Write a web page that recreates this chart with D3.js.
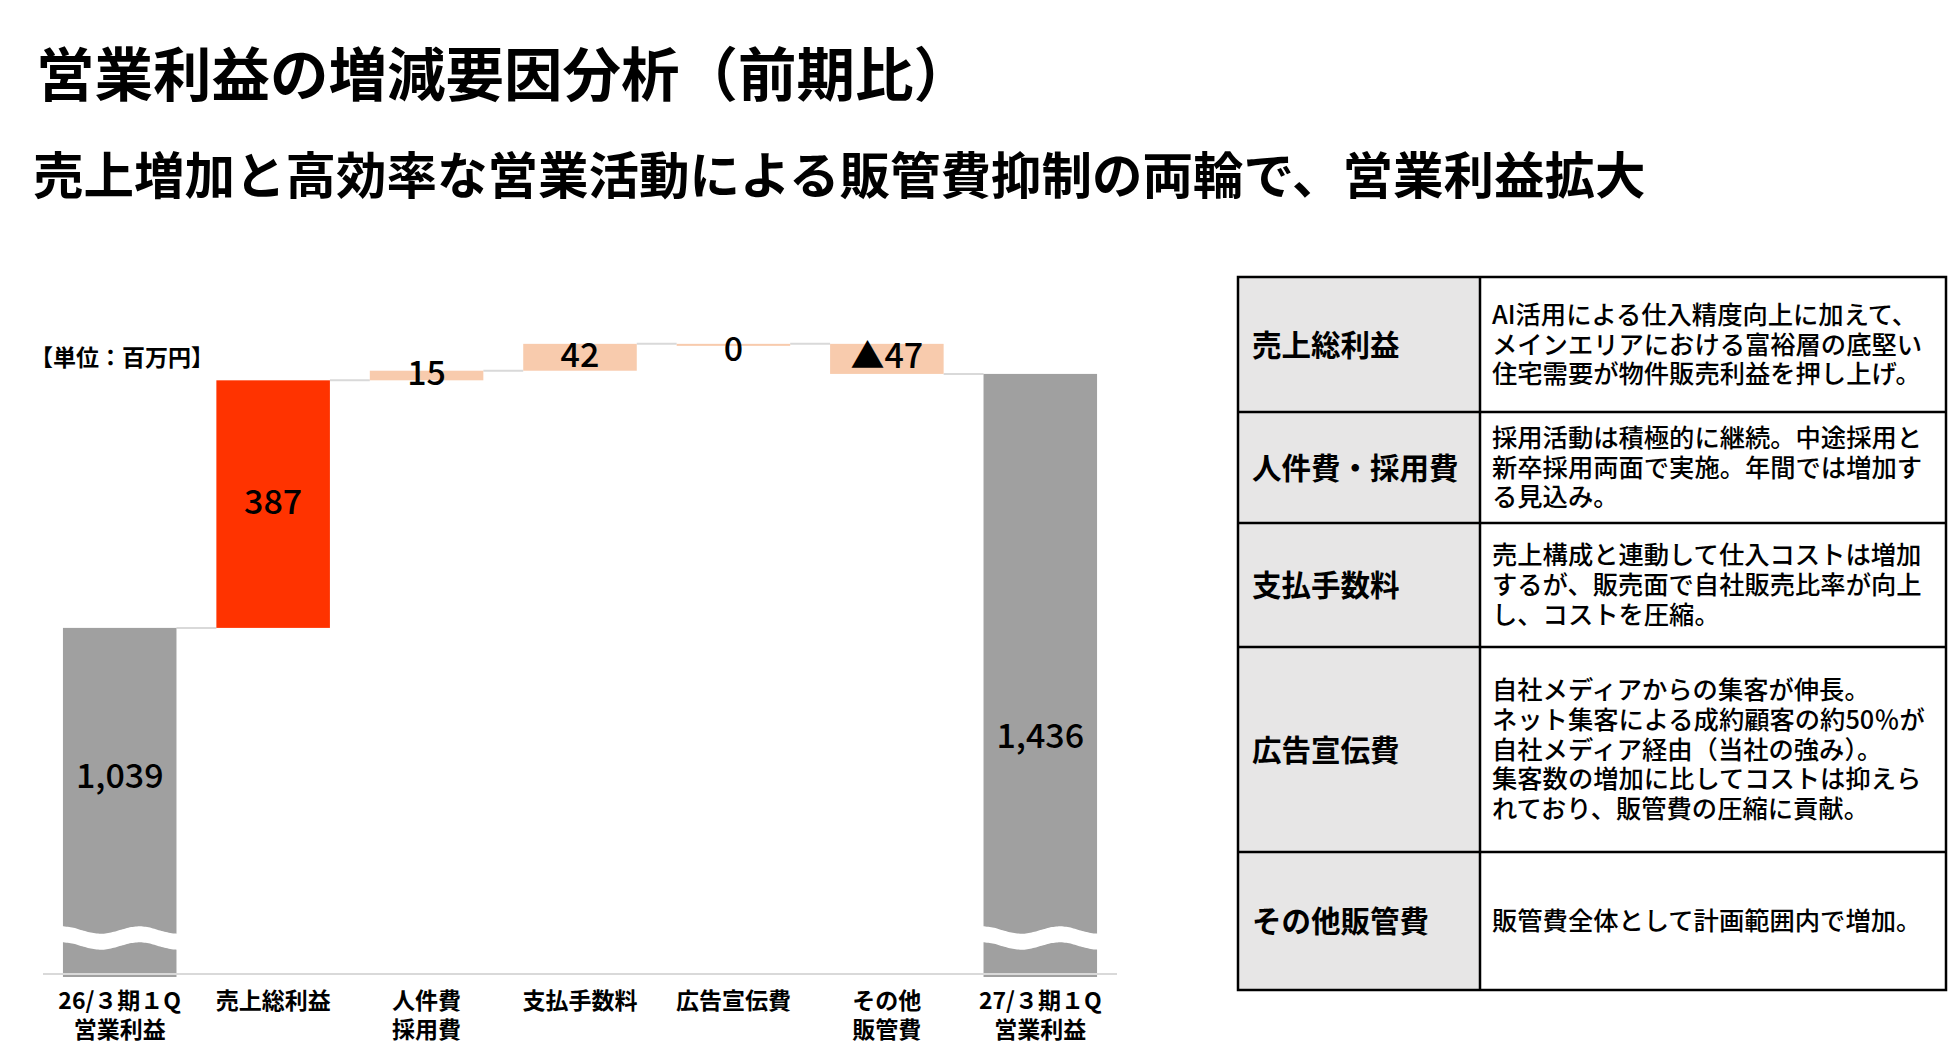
<!DOCTYPE html>
<html>
<head>
<meta charset="utf-8">
<script src="https://cdn.jsdelivr.net/npm/d3@7"></script>
<style>
  html, body { margin: 0; padding: 0; background: #fff; }
  svg text { font-family: "Noto Sans CJK JP", "Noto Sans", sans-serif; fill: #000; }
</style>
</head>
<body>
<svg id="chart" width="1950" height="1056"></svg>
<script>
// ---- data ----
const categories = [
    ["26/３期１Q", "営業利益"],
    ["売上総利益"],
    ["人件費", "採用費"],
    ["支払手数料"],
    ["広告宣伝費"],
    ["その他", "販管費"],
    ["27/３期１Q", "営業利益"]
];
const values = [1039, 387, 15, 42, 0, -47, 1436];
const kinds = ["total", "gain", "step", "step", "step", "step", "total"];
const valueLabels = ["1,039", "387", "15", "42", "0", "▲47", "1,436"];

const tableItems = ["売上総利益", "人件費・採用費", "支払手数料", "広告宣伝費", "その他販管費"];
const tableNotes = [
    ["AI活用による仕入精度向上に加えて、", "メインエリアにおける富裕層の底堅い", "住宅需要が物件販売利益を押し上げ。"],
    ["採用活動は積極的に継続。中途採用と", "新卒採用両面で実施。年間では増加す", "る見込み。"],
    ["売上構成と連動して仕入コストは増加", "するが、販売面で自社販売比率が向上", "し、コストを圧縮。"],
    ["自社メディアからの集客が伸長。", "ネット集客による成約顧客の約50％が", "自社メディア経由（当社の強み）。", "集客数の増加に比してコストは抑えら", "れており、販管費の圧縮に貢献。"],
    ["販管費全体として計画範囲内で増加。"]
];

// ---- layout ----
const svg = d3.select("#chart");
const colors = { total: "#a0a0a0", gain: "#ff3300", step: "#f8cbad" };

// titles
svg.append("text")
    .attr("x", 36).attr("y", 70)
    .attr("dominant-baseline", "central")
    .style("font-size", "58.5px").style("font-weight", 700)
    .text("営業利益の増減要因分析（前期比）");

svg.append("text")
    .attr("x", 33).attr("y", 172)
    .attr("dominant-baseline", "central")
    .style("font-size", "50.5px").style("font-weight", 700)
    .text("売上増加と高効率な営業活動による販管費抑制の両輪で、営業利益拡大");

svg.append("text")
    .attr("x", 30).attr("y", 356)
    .attr("dominant-baseline", "central")
    .style("font-size", "23px").style("font-weight", 700)
    .text("【単位：百万円】");

// waterfall build
let running = 0;
const bars = values.map((v, i) => {
    let lo, hi, level;
    if (kinds[i] === "total") {
        running = v;
        lo = null; hi = v; level = v;
    } else {
        const start = running;
        running = running + v;
        lo = Math.min(start, running);
        hi = Math.max(start, running);
        level = running;
    }
    return { i, v, kind: kinds[i], lo, hi, level, label: valueLabels[i], cat: categories[i] };
});

const axisY = 974;
const x = d3.scaleBand()
    .domain(d3.range(values.length))
    .range([43, 1117])
    .paddingInner(0.26)
    .paddingOuter(0.13);

// axis is broken: totals start from the axis base, not from zero
const y = d3.scaleLinear().domain([498, 1600]).range([axisY, 269]);
const bw = x.bandwidth();

const chart = svg.append("g");

// connector lines
chart.selectAll(".conn")
    .data(bars.slice(0, -1))
    .enter().append("line")
    .attr("class", "conn")
    .attr("x1", d => x(d.i) + bw)
    .attr("x2", d => x(d.i + 1))
    .attr("y1", d => y(d.level))
    .attr("y2", d => y(d.level))
    .style("stroke", "#d9d9d9")
    .style("stroke-width", 2);

// bars
chart.selectAll(".bar")
    .data(bars)
    .enter().append("rect")
    .attr("class", "bar")
    .attr("x", d => x(d.i))
    .attr("width", bw)
    .attr("y", d => y(d.hi))
    .attr("height", d => {
        const base = d.kind === "total" ? y.range()[0] + 3 : y(d.lo);
        return Math.max(2, base - y(d.hi));
    })
    .style("fill", d => colors[d.kind]);

// axis line
chart.append("line")
    .attr("x1", x.range()[0]).attr("x2", x.range()[1])
    .attr("y1", axisY).attr("y2", axisY)
    .style("stroke", "#d9d9d9")
    .style("stroke-width", 2);

// wavy break on total bars
const breakY = axisY - 36;
const waveAmp = 3.7, gap = 8;
bars.filter(d => d.kind === "total").forEach(d => {
    const x0 = x(d.i) - 1, x1 = x(d.i) + bw + 1;
    const period = bw * 0.68;
    const pts = d3.range(0, 41).map(k => x0 + (x1 - x0) * k / 40);
    const wave = px => -waveAmp * Math.cos(2 * Math.PI * (px - x0) / period);
    const area = d3.area()
        .x(px => px)
        .y0(px => breakY - gap + wave(px))
        .y1(px => breakY + gap + wave(px))
        .curve(d3.curveBasis);
    chart.append("path")
        .datum(pts)
        .attr("d", area)
        .style("fill", "#fff");
});

// value labels
const totalLabelFrac = { 0: 0.5, 6: 0.655 };
chart.selectAll(".val")
    .data(bars)
    .enter().append("text")
    .attr("class", "val")
    .attr("x", d => x(d.i) + bw / 2)
    .attr("y", d => {
        let cy;
        if (d.kind === "total") {
            const top = y(d.hi), bottom = breakY - gap;
            cy = top + (bottom - top) * totalLabelFrac[d.i];
        } else if (d.v === 0) {
            cy = y(d.hi) + 8;
        } else {
            cy = (y(d.hi) + y(d.lo)) / 2;
        }
        return cy - 5;
    })
    .attr("text-anchor", "middle")
    .attr("dominant-baseline", "central")
    .style("font-size", "34px")
    .style("font-weight", 500)
    .text(d => d.label);

// category labels
const catText = chart.selectAll(".cat")
    .data(bars)
    .enter().append("text")
    .attr("class", "cat")
    .attr("text-anchor", "middle")
    .style("font-size", "23px")
    .style("font-weight", 700);

catText.selectAll("tspan")
    .data(d => d.cat.map(t => ({ t, cx: x(d.i) + bw / 2 })))
    .enter().append("tspan")
    .attr("x", d => d.cx)
    .attr("y", (d, k) => 999 + k * 29)
    .attr("dominant-baseline", "central")
    .text(d => d.t);

// ---- table ----
const tableX = [1238, 1480, 1946];
const rowEdges = [277, 412, 523, 647, 852, 990];
const table = svg.append("g");

tableItems.forEach((item, r) => {
    const top = rowEdges[r], bottom = rowEdges[r + 1];
    const mid = (top + bottom) / 2;

    table.append("rect")
        .attr("x", tableX[0]).attr("y", top)
        .attr("width", tableX[1] - tableX[0]).attr("height", bottom - top)
        .style("fill", "#e7e6e6");

    table.append("text")
        .attr("x", tableX[0] + 14).attr("y", mid - 2)
        .attr("dominant-baseline", "central")
        .style("font-size", "29.5px").style("font-weight", 700)
        .text(item);

    const lines = tableNotes[r];
    const lh = 29.6;
    table.append("text")
        .style("font-size", "25.3px").style("font-weight", 500)
        .selectAll("tspan")
        .data(lines)
        .enter().append("tspan")
        .attr("x", tableX[1] + 12)
        .attr("y", (line, k) => mid - 2 + (k - (lines.length - 1) / 2) * lh)
        .attr("dominant-baseline", "central")
        .text(line => line);
});

// table grid
table.append("rect")
    .attr("x", tableX[0]).attr("y", rowEdges[0])
    .attr("width", tableX[2] - tableX[0])
    .attr("height", rowEdges[rowEdges.length - 1] - rowEdges[0])
    .style("fill", "none").style("stroke", "#000").style("stroke-width", 2.5);

table.append("line")
    .attr("x1", tableX[1]).attr("x2", tableX[1])
    .attr("y1", rowEdges[0]).attr("y2", rowEdges[rowEdges.length - 1])
    .style("stroke", "#000").style("stroke-width", 2.5);

table.selectAll(".rowline")
    .data(rowEdges.slice(1, -1))
    .enter().append("line")
    .attr("class", "rowline")
    .attr("x1", tableX[0]).attr("x2", tableX[2])
    .attr("y1", d => d).attr("y2", d => d)
    .style("stroke", "#000").style("stroke-width", 2.5);
</script>
</body>
</html>
